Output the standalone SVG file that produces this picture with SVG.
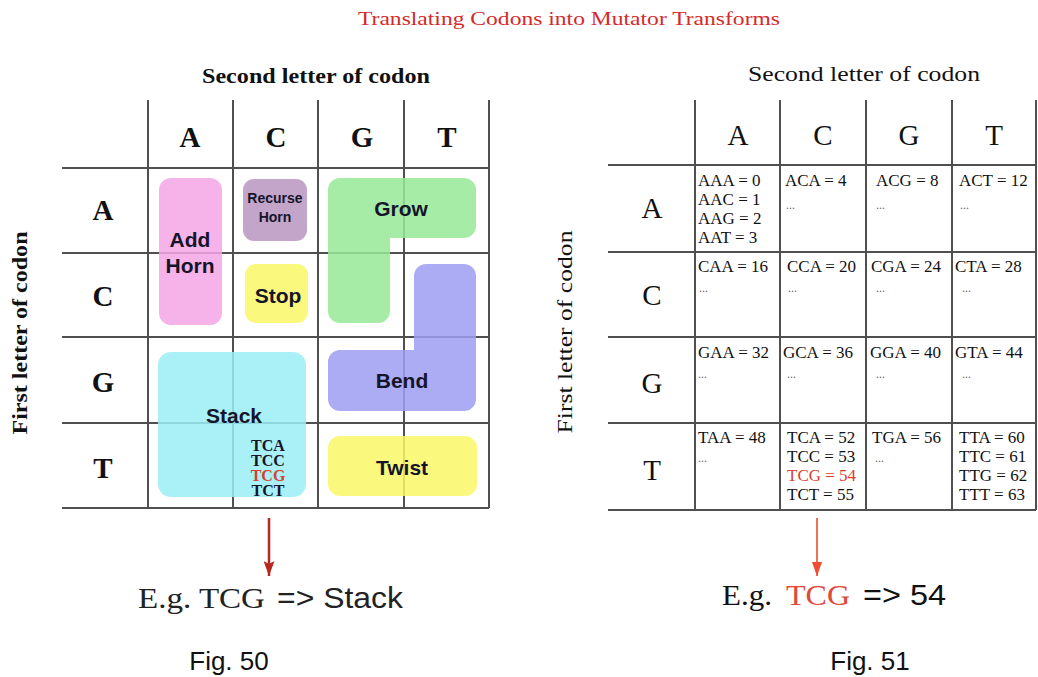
<svg xmlns="http://www.w3.org/2000/svg" width="1038" height="677" viewBox="0 0 1038 677">
<style>
.grid{stroke:#505050;stroke-width:2;fill:none}
.serif{font-family:"Liberation Serif","Times New Roman",serif}
.sans{font-family:"Liberation Sans",Arial,sans-serif}
.hdr{font-family:"Liberation Serif",serif;font-size:29px;fill:#111;text-anchor:middle}
.hdrL{font-weight:bold}
.box{opacity:0.85}
.lbl{font-family:"Liberation Sans",Arial,sans-serif;font-weight:bold;font-size:21px;fill:#15152a;text-anchor:middle}
.lbls{font-size:14px}
.cell{font-family:"Liberation Serif",serif;font-size:17px;fill:#111}
.dots{font-family:"Liberation Serif",serif;font-size:12px;fill:#666}
.red{fill:#d8402e}
</style>
<defs>
<marker id="ahR" markerWidth="14" markerHeight="10" refX="14" refY="5" orient="auto" markerUnits="userSpaceOnUse"><path d="M0,0 L14,5 L0,10 Z" fill="#f04a30"/></marker>
<marker id="ahL2" markerWidth="15" markerHeight="11" refX="15" refY="5.5" orient="auto" markerUnits="userSpaceOnUse"><path d="M0,0 L15,5.5 L0,11 L3,5.5 Z" fill="#b8281e"/></marker>
</defs>
<rect width="1038" height="677" fill="#ffffff"/>

<text id="title" class="serif" x="358" y="25" font-size="18" fill="#d42a2a" textLength="422" lengthAdjust="spacingAndGlyphs">Translating Codons into Mutator Transforms</text>

<!-- Fig. 50 -->
<g id="fig50-table">
<text class="serif" x="202" y="83" font-size="20" font-weight="bold" fill="#111" textLength="228" lengthAdjust="spacingAndGlyphs">Second letter of codon</text>
<text class="serif" transform="translate(27,333) rotate(-90)" text-anchor="middle" font-size="21" font-weight="bold" fill="#111" textLength="203" lengthAdjust="spacingAndGlyphs">First letter of codon</text>
<g class="grid">
<line x1="148" y1="100" x2="148" y2="508"/>
<line x1="233" y1="100" x2="233" y2="508"/>
<line x1="318" y1="100" x2="318" y2="508"/>
<line x1="404" y1="100" x2="404" y2="508"/>
<line x1="489" y1="100" x2="489" y2="508"/>
<line x1="62" y1="168" x2="489" y2="168"/>
<line x1="62" y1="253" x2="489" y2="253"/>
<line x1="62" y1="337" x2="489" y2="337"/>
<line x1="62" y1="423" x2="489" y2="423"/>
<line x1="62" y1="508" x2="489" y2="508"/>
</g>
<text class="hdr hdrL" x="190" y="147">A</text>
<text class="hdr hdrL" x="276" y="147">C</text>
<text class="hdr hdrL" x="362" y="147">G</text>
<text class="hdr hdrL" x="447" y="147">T</text>
<text class="hdr hdrL" x="103" y="220">A</text>
<text class="hdr hdrL" x="103" y="306">C</text>
<text class="hdr hdrL" x="103" y="392">G</text>
<text class="hdr hdrL" x="103" y="478">T</text>
</g>

<g id="add-horn">
<rect class="box" x="159" y="178" width="63" height="147" rx="12" fill="#f3a6e6"/>
<text class="lbl" x="190" y="247">Add</text>
<text class="lbl" x="190" y="273">Horn</text>
</g>
<g id="recurse-horn">
<rect class="box" x="243" y="179" width="64" height="62" rx="11" fill="#b895c0"/>
<text class="lbl lbls" x="275" y="203">Recurse</text>
<text class="lbl lbls" x="275" y="222">Horn</text>
</g>
<g id="stop">
<rect class="box" x="245" y="264" width="63" height="59" rx="11" fill="#f9f766"/>
<text class="lbl" x="278" y="303">Stop</text>
</g>
<g id="grow">
<path class="box" d="M340,178 H464 A12,12 0 0 1 476,190 V226 A12,12 0 0 1 464,238 H390 V311 A12,12 0 0 1 378,323 H340 A12,12 0 0 1 328,311 V190 A12,12 0 0 1 340,178 Z" fill="#96e796"/>
<text class="lbl" x="401" y="216">Grow</text>
</g>
<g id="bend">
<path class="box" d="M426,264 H464 A12,12 0 0 1 476,276 V399 A12,12 0 0 1 464,411 H340 A12,12 0 0 1 328,399 V362 A12,12 0 0 1 340,350 H414 V276 A12,12 0 0 1 426,264 Z" fill="#9c9df1"/>
<text class="lbl" x="402" y="388">Bend</text>
</g>
<g id="stack">
<rect class="box" x="158" y="352" width="148" height="145" rx="13" fill="#9bedf6"/>
<text class="lbl" x="234" y="423">Stack</text>
<g class="serif" font-size="16" font-weight="bold" fill="#15152a" text-anchor="middle">
<text x="268" y="451">TCA</text>
<text x="268" y="466">TCC</text>
<text x="268" y="481" fill="#d8402e">TCG</text>
<text x="268" y="496">TCT</text>
</g>
</g>
<g id="twist">
<rect class="box" x="328" y="436" width="149" height="60" rx="12" fill="#f9f766"/>
<text class="lbl" x="402" y="475">Twist</text>
</g>

<!-- Fig. 51 -->
<g id="fig51-table">
<text class="serif" x="748" y="81" font-size="20" fill="#111" textLength="232" lengthAdjust="spacingAndGlyphs">Second letter of codon</text>
<text class="serif" transform="translate(572,332) rotate(-90)" text-anchor="middle" font-size="21" fill="#111" textLength="203" lengthAdjust="spacingAndGlyphs">First letter of codon</text>
<g class="grid">
<line x1="695" y1="100" x2="695" y2="510"/>
<line x1="780" y1="100" x2="780" y2="510"/>
<line x1="866" y1="100" x2="866" y2="510"/>
<line x1="952" y1="100" x2="952" y2="510"/>
<line x1="1036" y1="100" x2="1036" y2="510"/>
<line x1="608" y1="165" x2="1036" y2="165"/>
<line x1="608" y1="252" x2="1036" y2="252"/>
<line x1="608" y1="337" x2="1036" y2="337"/>
<line x1="608" y1="423" x2="1036" y2="423"/>
<line x1="608" y1="510" x2="1036" y2="510"/>
</g>
<text class="hdr" x="738" y="145">A</text>
<text class="hdr" x="823" y="145">C</text>
<text class="hdr" x="909" y="145">G</text>
<text class="hdr" x="994" y="145">T</text>
<text class="hdr" x="652" y="218">A</text>
<text class="hdr" x="652" y="305">C</text>
<text class="hdr" x="652" y="393">G</text>
<text class="hdr" x="652" y="480">T</text>

<text class="cell" x="698" y="186">AAA = 0</text>
<text class="cell" x="698" y="205">AAC = 1</text>
<text class="cell" x="698" y="224">AAG = 2</text>
<text class="cell" x="698" y="243">AAT = 3</text>
<text class="cell" x="785" y="186">ACA = 4</text>
<text class="dots" x="786" y="209">...</text>
<text class="cell" x="876" y="186">ACG = 8</text>
<text class="dots" x="876" y="209">...</text>
<text class="cell" x="959" y="186">ACT = 12</text>
<text class="dots" x="960" y="209">...</text>

<text class="cell" x="698" y="272">CAA = 16</text>
<text class="dots" x="699" y="292">...</text>
<text class="cell" x="787" y="272">CCA = 20</text>
<text class="dots" x="788" y="292">...</text>
<text class="cell" x="871" y="272">CGA = 24</text>
<text class="dots" x="876" y="292">...</text>
<text class="cell" x="955" y="272">CTA = 28</text>
<text class="dots" x="962" y="292">...</text>

<text class="cell" x="698" y="358">GAA = 32</text>
<text class="dots" x="698" y="378">...</text>
<text class="cell" x="783" y="358">GCA = 36</text>
<text class="dots" x="787" y="378">...</text>
<text class="cell" x="870" y="358">GGA = 40</text>
<text class="dots" x="876" y="378">...</text>
<text class="cell" x="955" y="358">GTA = 44</text>
<text class="dots" x="962" y="378">...</text>

<text class="cell" x="698" y="443">TAA = 48</text>
<text class="dots" x="698" y="462">...</text>
<text class="cell" x="787" y="443">TCA = 52</text>
<text class="cell" x="787" y="462">TCC = 53</text>
<text class="cell red" x="787" y="481">TCG = 54</text>
<text class="cell" x="787" y="500">TCT = 55</text>
<text class="cell" x="872" y="443">TGA = 56</text>
<text class="dots" x="875" y="462">...</text>
<text class="cell" x="959" y="443">TTA = 60</text>
<text class="cell" x="959" y="462">TTC = 61</text>
<text class="cell" x="959" y="481">TTG = 62</text>
<text class="cell" x="959" y="500">TTT = 63</text>
</g>

<g id="connectors">
<line x1="269" y1="518" x2="269" y2="576" stroke="#b8281e" stroke-width="2.5" marker-end="url(#ahL2)"/>
<line x1="817" y1="518" x2="817" y2="576" stroke="#f04a30" stroke-width="1.6" marker-end="url(#ahR)"/>
</g>

<g id="example50">
<text class="serif" x="138" y="608" font-size="29" fill="#222" textLength="127" lengthAdjust="spacingAndGlyphs">E.g. TCG</text>
<text class="sans" x="277" y="608" font-size="29" fill="#222" textLength="126" lengthAdjust="spacingAndGlyphs">=&gt; Stack</text>
</g>
<g id="example51">
<text class="serif" x="722" y="605" font-size="29" fill="#111" textLength="50" lengthAdjust="spacingAndGlyphs">E.g.</text>
<text class="serif" x="786" y="605" font-size="29" fill="#e0483a" textLength="64" lengthAdjust="spacingAndGlyphs">TCG</text>
<text class="sans" x="863" y="605" font-size="29" fill="#111" textLength="83" lengthAdjust="spacingAndGlyphs">=&gt; 54</text>
</g>

<text id="fig50" class="sans" x="229" y="670" font-size="26" fill="#111" text-anchor="middle">Fig. 50</text>
<text id="fig51" class="sans" x="870" y="670" font-size="26" fill="#111" text-anchor="middle">Fig. 51</text>
</svg>
